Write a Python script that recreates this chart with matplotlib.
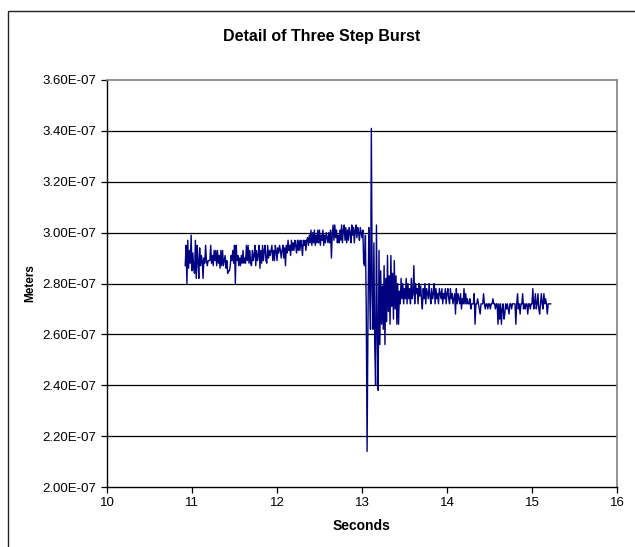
import numpy as np
import matplotlib
matplotlib.use("Agg")
import matplotlib.pyplot as plt
from matplotlib.ticker import FuncFormatter
from matplotlib.patches import Rectangle

plt.rcParams['font.family'] = ['Liberation Sans', 'DejaVu Sans']

# sample clock of the recording (seconds)
t_start = 10.92
t_step = 0.01

# displacement in nanometres (one value per sample)
meters_nm = [
    287, 295, 280, 297, 286, 293, 288, 299, 285, 292,
    286, 284, 297, 282, 295, 289, 282, 294, 287, 291,
    289, 282, 290, 288, 295, 289, 287, 289, 289, 289,
    295, 288, 291, 287, 293, 289, 293, 287, 293, 288,
    291, 286, 293, 287, 293, 287, 289, 291, 286, 289,
    284, 285, 285, 287, 291, 289, 293, 288, 295, 280,
    295, 289, 291, 287, 290, 287, 291, 288, 293, 288,
    290, 288, 295, 289, 295, 288, 293, 288, 287, 293,
    289, 291, 295, 287, 293, 289, 291, 295, 286, 293,
    288, 295, 289, 293, 295, 289, 288, 295, 290, 293,
    291, 293, 295, 289, 293, 289, 295, 293, 289, 294,
    292, 295, 293, 290, 293, 295, 290, 294, 287, 295,
    292, 297, 293, 295, 291, 297, 293, 296, 293, 297,
    295, 292, 297, 293, 297, 293, 297, 295, 291, 297,
    295, 297, 293, 297, 298, 295, 299, 296, 301, 295,
    300, 296, 301, 295, 299, 296, 301, 296, 301, 295,
    299, 297, 301, 295, 299, 296, 300, 298, 296, 300,
    296, 301, 290, 299, 303, 297, 303, 298, 301, 296,
    299, 296, 301, 297, 303, 296, 301, 303, 297, 302,
    296, 301, 297, 302, 300, 296, 303, 299, 302, 296,
    301, 303, 298, 302, 300, 297, 302, 300, 298, 301,
    288, 287, 299, 270, 214, 264, 302, 280, 262, 341,
    278, 262, 296, 255, 240, 303, 260, 238, 293, 256,
    285, 264, 279, 262, 287, 256, 282, 265, 291, 269,
    283, 264, 291, 271, 284, 266, 289, 270, 283, 264,
    280, 264, 277, 272, 282, 274, 280, 272, 278, 274,
    282, 272, 280, 274, 278, 272, 282, 274, 276, 287,
    272, 280, 276, 278, 272, 280, 275, 279, 274, 270,
    278, 274, 280, 272, 278, 276, 274, 280, 275, 272,
    278, 274, 276, 280, 272, 278, 274, 276, 272, 278,
    276, 274, 278, 272, 276, 274, 278, 272, 276, 278,
    274, 272, 278, 274, 276, 272, 274, 276, 268, 278,
    272, 276, 274, 272, 276, 270, 274, 272, 278, 272,
    276, 272, 274, 272, 272, 274, 270, 272, 272, 272,
    276, 264, 272, 272, 274, 272, 270, 268, 272, 272,
    272, 276, 272, 270, 272, 272, 270, 272, 272, 270,
    272, 272, 274, 272, 272, 270, 272, 272, 264, 272,
    266, 272, 264, 270, 272, 266, 268, 272, 270, 272,
    270, 268, 272, 272, 270, 272, 272, 272, 272, 264,
    272, 276, 270, 272, 268, 272, 272, 276, 270, 272,
    270, 272, 272, 268, 272, 272, 270, 272, 272, 278,
    270, 272, 276, 270, 272, 276, 270, 268, 272, 276,
    272, 270, 276, 272, 274, 272, 268, 272, 272, 272,
    272,
]

x_ticks = [10, 11, 12, 13, 14, 15, 16]
y_ticks = [2.0e-7, 2.2e-7, 2.4e-7, 2.6e-7, 2.8e-7, 3.0e-7, 3.2e-7, 3.4e-7, 3.6e-7]

y = np.array(meters_nm) * 1e-9
t = t_start + t_step * np.arange(len(y))

fig = plt.figure(figsize=(6.35, 5.47), dpi=100)
ax = fig.add_axes([107 / 635, 60 / 547, 510 / 635, 407 / 547])

# outer chart border (runs off the right / bottom edge like the original)
fig.patches.append(Rectangle((8 / 635, -0.05), 1.2, 1 - 11 / 547 + 0.05,
                             transform=fig.transFigure, fill=False,
                             edgecolor='#222222', linewidth=1.0))

for v in y_ticks[1:-1]:
    ax.axhline(v, color='black', linewidth=0.9, zorder=1)

ax.plot(t, y, color='#000080', linewidth=1.0, zorder=3)

ax.set_xlim(10, 16)
ax.set_ylim(2.0e-7, 3.6e-7)
ax.set_xticks(x_ticks)
ax.set_yticks(y_ticks)
ax.yaxis.set_major_formatter(FuncFormatter(lambda v, p: f"{v:.2E}"))
ax.tick_params(direction='out', length=4, width=0.9, labelsize=9.5, colors='black')

for side in ['top', 'right']:
    ax.spines[side].set_color('#808080')
    ax.spines[side].set_linewidth(1.2)
for side in ['left', 'bottom']:
    ax.spines[side].set_color('black')
    ax.spines[side].set_linewidth(1.0)

fig.text(322 / 635, 1 - 36 / 547, 'Detail of Three Step Burst', ha='center',
         va='center', fontsize=11.5, fontweight='bold')
fig.text(362 / 635, 1 - 526 / 547, 'Seconds', ha='center', va='center',
         fontsize=10, fontweight='bold')
fig.text(30 / 635, 1 - 283 / 547, 'Meters', ha='center', va='center',
         rotation=90, fontsize=8.5, fontweight='bold')

plt.savefig('out.png', dpi=100)
